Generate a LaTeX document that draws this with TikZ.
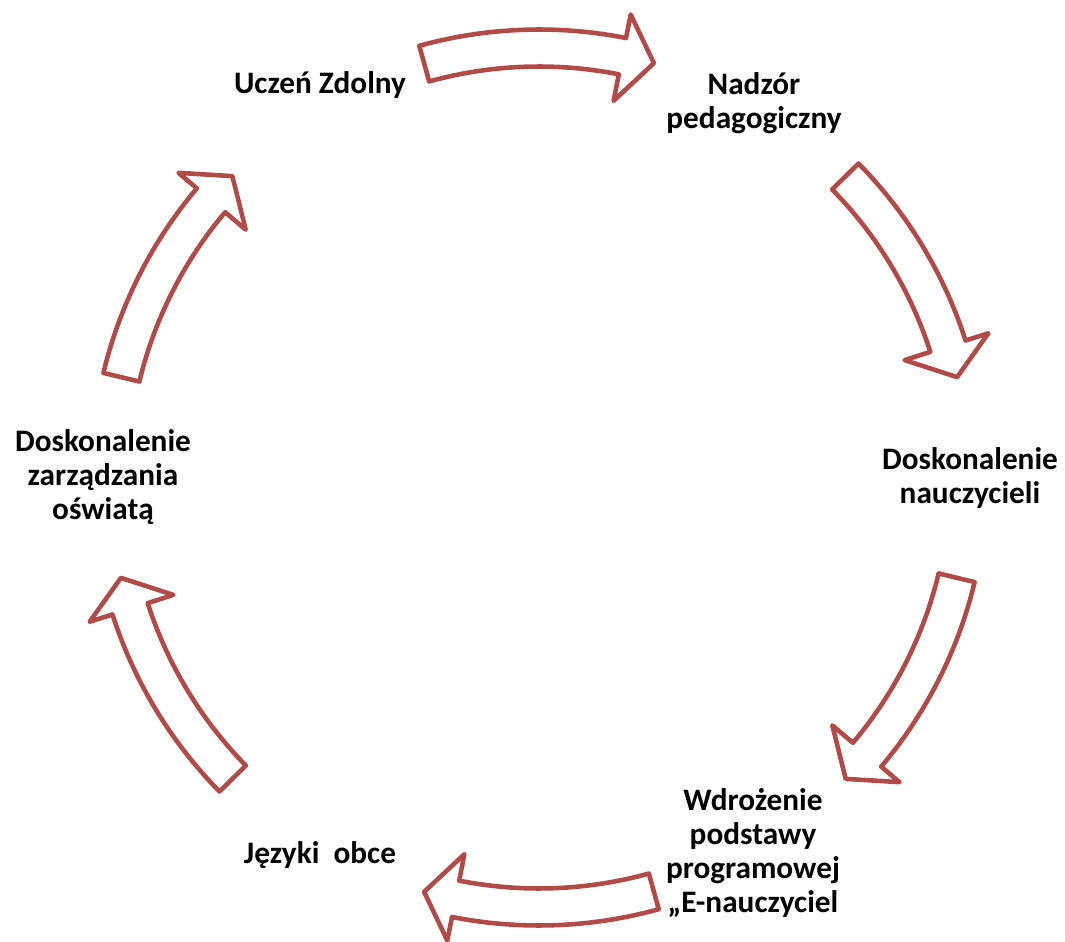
\documentclass[tikz,border=0pt]{standalone}
\usepackage{fontspec}
\setmainfont{Carlito}
\definecolor{arrowred}{RGB}{178,75,72}

\tikzset{
    stagetext/.style={font=\bfseries\fontsize{17.8}{19.3}\selectfont, align=center, inner sep=0pt},
    arrowbox/.style={draw=arrowred, fill=white, line width=2.6pt, line join=round}
}

% one bent block arrow of the cycle, #1 = middle angle
\newcommand{\bentarrow}[1]{
    \draw[arrowbox] ({#1+15.5}:448) arc[start angle={#1+15.5}, end angle={#1-11.2}, radius=448]
        -- ({#1-11.2}:472) -- ({#1-15.5}:430) -- ({#1-11.2}:384) -- ({#1-11.2}:411)
        arc[start angle={#1-11.2}, end angle={#1+15.5}, radius=411] -- cycle;
}

\begin{document}
\begin{tikzpicture}[x=0.02cm, y=0.02cm]
    \useasboundingbox (0,0) rectangle (1065,941);

    \begin{scope}[shift={(539,463.5)}]
        \foreach \a in {90,29,-29,-90,-151,151}
            {\bentarrow{\a}}
    \end{scope}

    \node[stagetext] (uczen) at (320,856) {Uczeń Zdolny};
    \node[stagetext] (nadzor) at (754,838) {Nadzór\\pedagogiczny};
    \node[stagetext] (nauczyciele) at (970,463) {Doskonalenie\\nauczycieli};
    \node[stagetext] (wdrozenie) at (753,88) {Wdrożenie\\podstawy\\programowej\\„E-nauczyciel};
    \node[stagetext] (jezyki) at (320,86) {Języki~~obce};
    \node[stagetext] (zarzadzanie) at (103,464) {Doskonalenie\\zarządzania\\oświatą};
\end{tikzpicture}
\end{document}
